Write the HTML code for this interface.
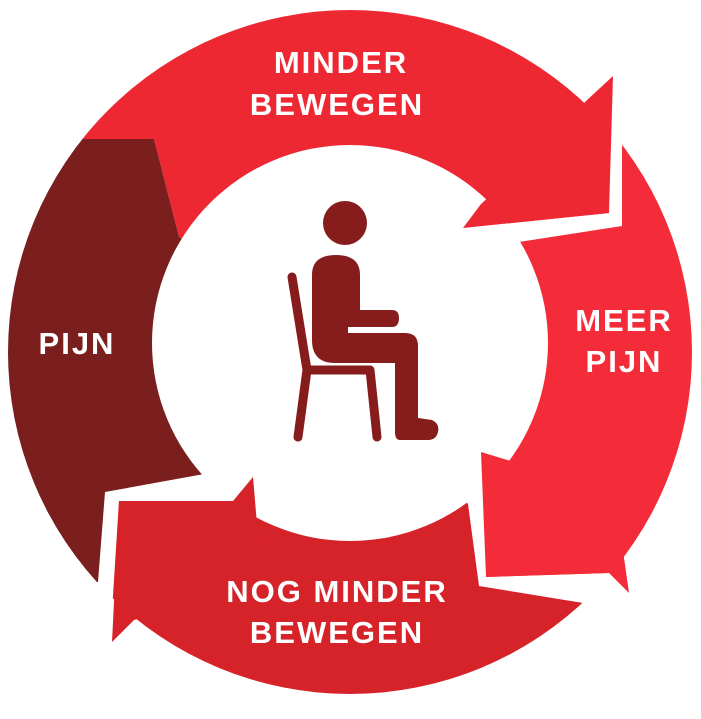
<!DOCTYPE html>
<html><head><meta charset="utf-8"><style>
html,body{margin:0;padding:0;background:#fff;width:701px;height:719px;overflow:hidden}
svg{display:block;position:absolute;left:0;top:0}
text{font-family:"Liberation Sans",sans-serif;font-weight:bold;fill:#fff;text-anchor:middle;letter-spacing:2px}
</style></head><body>
<svg width="701" height="719" viewBox="0 0 701 719">
<defs><clipPath id="c"><circle cx="350" cy="352" r="342"/></clipPath></defs>
<g clip-path="url(#c)">
<rect x="0" y="0" width="701" height="719" fill="#fff"/>
<polygon fill="#ee2833" points="-50,139 154,139 179,237 350,343 463,228 609,213 609,-50 -50,-50"/>
<polygon fill="#f42b38" points="350,343 519,242 622,226 622,-50 800,-50 800,573 609,573 486,577 504,472"/>
<polygon fill="#d62229" points="350,343 468,504 479,586 700,622 700,800 100,800 119,501 233,501"/>
<polygon fill="#7b1e1e" points="-50,139 154,139 179,237 350,343 204,474 105,492 98,582 -50,582"/>
</g>
<circle cx="350" cy="343" r="198" fill="#fff"/>
<polygon fill="#ee2833" points="481,204 463,228 609,213 613,76 586,101 540,150"/>
<polygon fill="#f42b38" points="481,452 540,470 620,530 629,593 609,573 486,577"/>
<polygon fill="#d62229" points="253,477 233,501 119,501 112,642 134,620 200,600 260,560"/>
<text x="341" y="73" font-size="31">MINDER</text>
<text x="337" y="115" font-size="31">BEWEGEN</text>
<text x="77" y="354" font-size="31">PIJN</text>
<text x="624" y="331" font-size="31">MEER</text>
<text x="624" y="372" font-size="31">PIJN</text>
<text x="337" y="602" font-size="31">NOG MINDER</text>
<text x="337" y="643" font-size="31">BEWEGEN</text>
<g fill="#861c1c" stroke="#861c1c" stroke-linecap="round" stroke-linejoin="round">
<circle cx="345" cy="223" r="22" stroke="none"/>
<polyline points="292,277 307,370 298,437" fill="none" stroke-width="9"/>
<polyline points="307,370 370,370 377,437" fill="none" stroke-width="9"/>
<path d="M312,275 Q312,255 336,255 Q360,255 360,275 L360,310 L392,310 Q399,310 399,318 Q399,327 392,327 L348,327 L348,333 L405,333 Q418,333 418,346 L418,418 L432,420 Q440,424 438,432 Q436,440 428,440 L400,440 Q395,440 395,432 L395,363 L335,363 Q312,363 312,340 Z" stroke="none"/>
</g>
</svg>
</body></html>
